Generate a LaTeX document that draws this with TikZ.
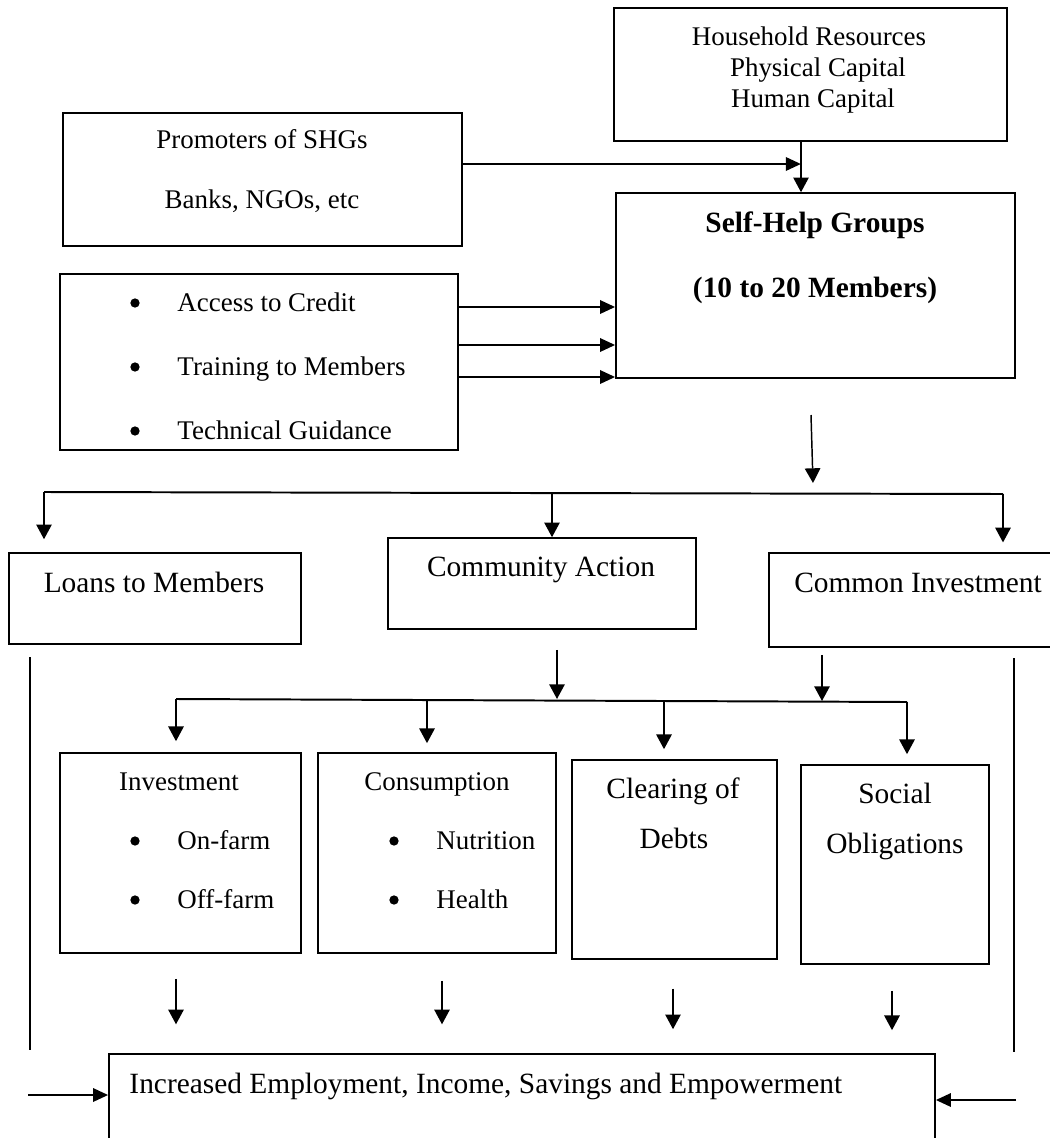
\documentclass[tikz,border=0pt]{standalone}
\usepackage{fontspec}
\setmainfont{Liberation Serif}
\usetikzlibrary{arrows.meta,fit}

\begin{document}
\begin{tikzpicture}[x=0.4082pt,y=-0.4082pt,
  box/.style={draw,line width=0.65pt,inner sep=0pt},
  arr/.style={-{Triangle[length=6pt,width=6.3pt]},line width=0.6pt},
  thickarr/.style={-{Triangle[length=6.2pt,width=5.4pt]},line width=1.1pt},
  bul/.style={circle,fill,inner sep=0pt,minimum size=3.8pt},
  sm/.style={font=\fontsize{11}{13}\selectfont,anchor=base,inner sep=0pt},
  lg/.style={font=\fontsize{12}{14}\selectfont,anchor=base,inner sep=0pt}]
  \useasboundingbox (0,0) rectangle (1050,1138);
  \clip (0,0) rectangle (1050,1138);
  % top row
  \node[box,fit={(614,8)(1007,141)}] (hh) {};
  \node[sm] (hh1) at (809,45) {Household Resources};
  \node[sm] (hh2) at (818,76) {Physical Capital};
  \node[sm] (hh3) at (813,107) {Human Capital};
  \node[box,fit={(63,113)(462,246)}] (promo) {};
  \node[sm] (promo1) at (262,148) {Promoters of SHGs};
  \node[sm] (promo2) at (262,208) {Banks, NGOs, etc};
  \node[box,fit={(616,193)(1015,378)}] (shg) {};
  \node[lg,font=\fontsize{12}{14}\selectfont\bfseries] (shg1) at (815,232) {Self-Help Groups};
  \node[lg,font=\fontsize{12}{14}\selectfont\bfseries] (shg2) at (815,297) {(10 to 20 Members)};
  \node[box,fit={(60,274)(458,450)}] (list) {};
  \foreach \n/\yy/\t in {a/311/Access to Credit,b/375/Training to Members,c/439/Technical Guidance}{
    \node[bul] (dot\n) at (135,\yy-8) {};
    \node[sm,anchor=base west] (item\n) at (177,\yy) {\t};
  }
  \coordinate (j1) at (801,164);
  \draw[arr] (hh.south -| j1) -- (shg.north -| j1);
  \draw[thickarr] (promo.east |- j1) -- (j1);
  \foreach \yy in {307,345,377}
    \draw[thickarr] (list.east |- 0,\yy) -- (shg.west |- 0,\yy);
  % second row
  \coordinate (s1) at (811,415);
  \coordinate (s2) at (813,483);
  \draw[arr] (s1) -- (s2);
  \node[box,fit={(9,553)(301,644)}] (loans) {};
  \node[lg] (loans1) at (154,592) {Loans to Members};
  \node[box,fit={(388,538)(696,629)}] (comm) {};
  \node[lg] (comm1) at (541,576) {Community Action};
  \node[box,fit={(769,553)(1053,647)}] (common) {};
  \node[lg] (common1) at (918,592) {Common Investment};
  \coordinate (b1l) at (44,492);
  \coordinate (b1m) at (552,493);
  \coordinate (b1r) at (1003,494);
  \draw[line width=0.8pt] (b1l) -- (b1r);
  \draw[arr,shorten >=5.3pt] (b1l) -- (b1l |- loans.north);
  \draw[arr] (b1m) -- (b1m |- comm.north);
  \draw[arr,shorten >=4pt] (b1r) -- (b1r |- common.north);
  % third row
  \node[box,fit={(60,753)(301,953)}] (inv) {};
  \node[sm] (inv1) at (179,790) {Investment};
  \node[box,fit={(318,753)(556,953)}] (cons) {};
  \node[sm] (cons1) at (437,790) {Consumption};
  \foreach \n/\yy/\ta/\tb in {a/849/On-farm/Nutrition,b/908/Off-farm/Health}{
    \node[bul] (idot\n) at (135,\yy-8) {};
    \node[sm,anchor=base west] (iitem\n) at (177,\yy) {\ta};
    \node[bul] (cdot\n) at (394,\yy-8) {};
    \node[sm,anchor=base west] (citem\n) at (436,\yy) {\tb};
  }
  \node[box,fit={(572,760)(777,959)}] (clr) {};
  \node[lg] (clr1) at (673,798) {Clearing of};
  \node[lg] (clr2) at (674,848) {Debts};
  \node[box,fit={(801,765)(989,964)}] (soc) {};
  \node[lg] (soc1) at (895,803) {Social};
  \node[lg] (soc2) at (895,853) {Obligations};
  \coordinate (b2a) at (557,699);
  \coordinate (b2b) at (822,701);
  \draw[arr,shorten <=8.2pt] (comm.south -| b2a) -- (b2a);
  \draw[arr,shorten <=2.9pt] (common.south -| b2b) -- (b2b);
  \draw[line width=0.8pt] (176,699) coordinate (b2l) -- (907,702) coordinate (b2r);
  \foreach \xx/\yy/\bx/\gap in {176/699/inv/4.5pt,427/700/cons/3.7pt,664/701/clr/4.1pt,907/702/soc/4.1pt}
    \draw[arr,shorten >=\gap] (\xx,\yy) coordinate (d\bx) -- (d\bx |- \bx.north);
  % bottom row
  \node[box,fit={(109,1054)(935,1160)}] (out) {};
  \node[lg,anchor=base west] (out1) at (129,1093) {Increased Employment, Income, Savings and Empowerment};
  \foreach \bx/\dx/\sa/\sb in {inv/-4.5/10.2pt/11.8pt,cons/5/11pt/11.8pt,clr/-1.5/11.8pt/9.8pt,soc/-3/10.6pt/9.4pt}
    \draw[arr,shorten <=\sa,shorten >=\sb] ([xshift=\dx*0.4082pt]\bx.south) coordinate (u\bx) -- (u\bx |- out.north);
  \coordinate (l1) at (30,657);
  \coordinate (l2) at (30,1050);
  \coordinate (r1) at (1014,658);
  \coordinate (r2) at (1014,1052);
  \draw[line width=0.5pt] (l1) -- (l2);
  \draw[line width=0.5pt] (r1) -- (r2);
  \coordinate (l3) at (28,1095);
  \coordinate (r3) at (1016,1100);
  \draw[thickarr] (l3) -- (out.west |- l3);
  \draw[thickarr] (r3) -- (out.east |- r3);
\end{tikzpicture}
\end{document}
